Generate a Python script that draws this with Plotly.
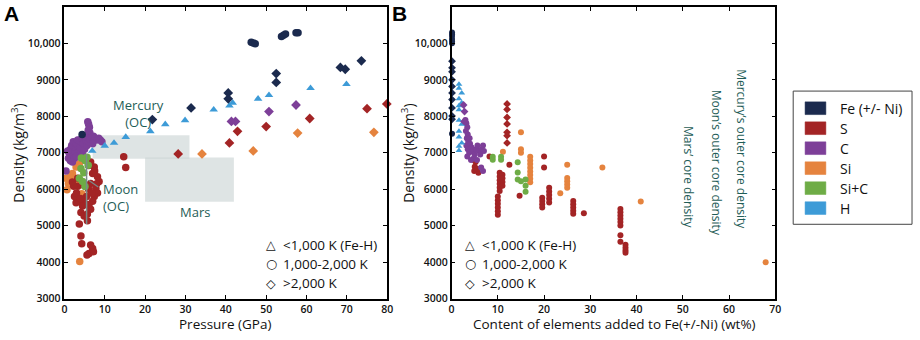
import plotly.graph_objects as go

W, H = 920, 340
FONT = "Open Sans"
TEAL = "#1f5d57"

CATEGORIES = ["Fe (+/- Ni)", "S", "C", "Si", "Si+C", "H"]
COLORS = ["#1b2a4e", "#a32425", "#7d3f98", "#e5833e", "#6eac46", "#3d9bd7"]
TEMP_LABELS = ["<1,000 K (Fe-H)", "1,000-2,000 K", ">2,000 K"]
TEMP_GLYPHS = ["\u25b3", "\u25cb", "\u25c7"]
Y_TICKS = [3000, 4000, 5000, 6000, 7000, 8000, 9000, 10000, 11000]
Y_TICKTEXT = ["3000", "4000", "5000", "6000", "7000", "8000", "9000", "10,000", "11,000"]
XA_TICKS = [0, 10, 20, 30, 40, 50, 60, 70, 80]
XB_TICKS = [0, 10, 20, 30, 40, 50, 60, 70]

# ---------------- Panel A : density vs pressure (GPa) ----------------
A_FE_CIR_X = [46.3, 46.8, 47.3, 53.8, 54.3, 54.8, 57.4, 57.9, 4.4]
A_FE_CIR_Y = [10030, 10010, 9990, 10190, 10225, 10255, 10290, 10290, 7500]
A_FE_DIA_X = [21.8, 31.4, 40.6, 40.6, 52.5, 52.5, 68.4, 69.6, 73.6]
A_FE_DIA_Y = [7910, 8230, 8640, 8480, 9170, 8930, 9340, 9290, 9520]

A_S_CIR_X = [6.5, 7.4, 7.0, 8.2, 8.6, 6.5, 7.8, 8.2, 7.4, 7.0, 6.1, 4.9, 3.7, 2.9, 2.5, 3.3,
             4.5, 4.1, 4.9, 5.7, 6.5, 5.7, 3.7, 4.1, 4.3, 6.5, 7.0, 6.1, 7.2, 5.6, 2.3, 3.3,
             14.7, 15.2, 7.5, 6.0, 5.5, 8.0, 6.8, 3.0, 4.0, 5.0, 6.0, 2.0]
A_S_CIR_Y = [6750, 6610, 6430, 6340, 6210, 6160, 6030, 5900, 5800, 5670, 5580, 5630, 5670, 5630, 5800, 6080,
             5540, 5360, 5270, 5320, 5450, 5140, 5050, 4720, 4510, 4470, 4380, 4240, 4290, 4200, 6080, 6300,
             6890, 6600, 6500, 6000, 5800, 6150, 5900, 5900, 5750, 6100, 6650, 6200]
A_S_DIA_X = [28.2, 40.9, 42.9, 50.0, 60.8, 75.0, 79.9]
A_S_DIA_Y = [6970, 7270, 7590, 7720, 7940, 8210, 8340]

A_C_CIR_X = [5.8, 6.0, 6.2, 5.9, 6.3, 6.0, 6.5, 5.5, 1.2, 1.5, 1.8, 2.2, 2.0, 2.5, 2.8, 3.0, 3.3, 3.5,
             3.8, 4.0, 4.3, 4.7, 5.0, 5.3, 5.6, 6.0, 6.4, 6.8, 7.2, 7.6, 8.0, 8.5, 8.9, 9.3, 7.0,
             1.0, 1.5, 2.0, 2.5, 3.0, 4.5, 0.8, 0.4]
A_C_CIR_Y = [7850, 7780, 7700, 7620, 7550, 7480, 7420, 7400, 7000, 7100, 7200, 7300, 6900, 7050, 7150, 7250, 7350, 7000,
             7150, 7300, 7400, 7250, 7100, 7350, 7200, 7300, 7380, 7420, 7450, 7400, 7350, 7400, 7350, 7300, 7250,
             6850, 6780, 6750, 6850, 6900, 6950, 7050, 6500]
A_C_DIA_X = [41.4, 42.4, 50.7, 57.4]
A_C_DIA_Y = [7860, 7860, 8130, 8310]

A_SI_CIR_X = [0.4, 1.0, 0.65, 3.3, 2.9, 3.7, 2.0, 3.8, 4.3, 1.5]
A_SI_CIR_Y = [6300, 6150, 5990, 6120, 6610, 6700, 6430, 4020, 5880, 6350]
A_SI_DIA_X = [34.1, 46.8, 57.8, 76.7]
A_SI_DIA_Y = [6970, 7050, 7540, 7560]

A_SIC_CIR_X = [4.2, 4.9, 5.6, 5.2, 4.1, 5.9, 3.7, 4.5, 5.1, 4.8]
A_SIC_CIR_Y = [6860, 6840, 6880, 6780, 6570, 6660, 6300, 6210, 6075, 6450]

A_H_TRI_X = [6.9, 10.0, 12.3, 15.2, 21.3, 25.0, 29.9, 37.0, 40.9, 41.7, 48.0, 50.7, 61.0, 69.9]
A_H_TRI_Y = [7050, 7190, 7270, 7430, 7590, 7780, 7890, 8180, 8290, 8370, 8480, 8580, 8770, 8880]

# Core-density reference zones (GPa, kg/m3)
MERCURY_OC_P = [7.0, 31.0]
MERCURY_OC_RHO = [6840, 7480]
MARS_P = [20.0, 42.0]
MARS_RHO = [5660, 6870]
MOON_OC_P = 5.5
MOON_OC_RHO = [5050, 6970]

# ---------------- Panel B : density vs light-element content (wt%) ----------------
B_FE_CIR_X = [0.1, 0.1, 0.1, 0.1, 0.1, 0.1, 0.1]
B_FE_CIR_Y = [10300, 10250, 10200, 10120, 10060, 10000, 7520]
B_FE_DIA_X = [0.1, 0.1, 0.1, 0.1, 0.1, 0.1, 0.1, 0.1, 0.1, 0.1]
B_FE_DIA_Y = [9510, 9330, 9220, 9000, 8820, 8640, 8460, 8230, 8010, 7920]

B_S_CIR_X = [4.8, 5.2, 5.0, 4.9, 5.8, 5.5, 8.2, 12.5, 14.7, 20.0, 20.0,
             10.4, 10.4, 10.4, 10.4, 10.4, 10.4, 11.0, 11.0, 11.0, 11.0,
             10.0, 10.0, 10.0, 10.0, 10.0, 10.0, 19.6, 19.6, 19.6, 19.6,
             21.1, 21.1, 21.1, 21.1, 21.1, 26.3, 26.3, 26.3, 26.3, 26.3, 28.6,
             36.5, 36.5, 36.5, 36.5, 36.5, 36.5, 36.5, 36.5, 37.6, 37.6, 37.6, 37.6]
B_S_CIR_Y = [6800, 6750, 6620, 6500, 6450, 6560, 6900, 6670, 5820, 6900, 6600,
             6450, 6350, 6250, 6150, 6050, 5950, 6400, 6300, 6200, 6100,
             5800, 5700, 5600, 5500, 5400, 5300, 5770, 5680, 5590, 5500,
             6040, 5940, 5840, 5740, 5640, 5680, 5590, 5500, 5410, 5330, 5340,
             5460, 5370, 5280, 5190, 5100, 5010, 4740, 4560, 4480, 4400, 4320, 4260]
B_S_DIA_X = [12.0, 12.0, 12.0, 12.0, 12.0, 12.0, 12.0]
B_S_DIA_Y = [8340, 8190, 7970, 7790, 7560, 7470, 7270]

B_C_CIR_X = [3.0, 3.2, 3.4, 3.1, 3.5, 3.3, 3.6, 3.2, 3.5, 3.8, 3.4, 4.0, 4.3, 4.6,
             5.0, 5.3, 5.6, 5.9, 6.2, 6.5, 6.8, 7.0, 4.8, 5.5, 6.8, 6.4, 4.2, 3.9]
B_C_CIR_Y = [7900, 7800, 7700, 7600, 7500, 7400, 7300, 7200, 7100, 7000, 6900, 7250, 7150, 7050,
             6950, 7100, 7200, 7050, 6950, 7100, 7200, 7050, 6850, 6800, 6500, 6600, 6800, 7400]
B_C_DIA_X = [2.6, 2.8, 2.7, 2.9]
B_C_DIA_Y = [8310, 8130, 7860, 7860]

B_SI_CIR_X = [11.1, 15.0, 15.0, 15.0, 17.0, 17.0, 17.0, 17.0, 17.0, 17.0, 17.0, 17.0,
              23.5, 25.0, 25.0, 25.0, 25.0, 25.0, 32.6, 40.9, 67.9]
B_SI_CIR_Y = [7030, 7560, 7100, 7000, 6890, 6790, 6690, 6590, 6490, 6390, 6290, 6190,
              5890, 6670, 6310, 6220, 6130, 6040, 6600, 5665, 4000]

B_SIC_CIR_X = [8.9, 8.9, 10.7, 10.7, 14.3, 14.3, 14.3, 15.0, 16.0, 16.0, 16.0]
B_SIC_CIR_Y = [6890, 6810, 6890, 6810, 6740, 6460, 6270, 6220, 6270, 6100, 5930]

B_H_TRI_X = [1.6, 1.6, 2.2, 1.6, 2.2, 1.6, 1.6, 1.6, 2.2, 1.6, 1.6, 2.2, 1.6, 1.6]
B_H_TRI_Y = [8880, 8770, 8640, 8480, 8370, 8290, 8180, 7890, 7780, 7590, 7430, 7270, 7180, 7060]

CORE_NOTES = ["Mercury\u2019s outer core density", "Moon\u2019s outer core density", "Mars\u2019 core density"]


def px(x):
    return x / W


def py(y):
    return 1 - y / H


COL = dict(zip(CATEGORIES, COLORS))
fig = go.Figure()


def add(xs, ys, cat, symbol, size, panel):
    fig.add_trace(go.Scatter(
        x=xs, y=ys, mode="markers", showlegend=False, cliponaxis=False,
        xaxis="x" if panel == "A" else "x2", yaxis="y" if panel == "A" else "y2",
        marker=dict(color=COL[cat], symbol=symbol, size=size, line=dict(width=0)),
        hoverinfo="skip"))


SA, SB = 7.5, 6
# Panel A
add(A_SI_CIR_X, A_SI_CIR_Y, "Si", "circle", SA, "A")
add(A_S_CIR_X, A_S_CIR_Y, "S", "circle", SA, "A")
add(A_C_CIR_X, A_C_CIR_Y, "C", "circle", SA, "A")
add(A_SIC_CIR_X, A_SIC_CIR_Y, "Si+C", "circle", SA, "A")
add(A_FE_CIR_X, A_FE_CIR_Y, "Fe (+/- Ni)", "circle", SA, "A")
add(A_H_TRI_X, A_H_TRI_Y, "H", "triangle-up", SA, "A")
add(A_S_DIA_X, A_S_DIA_Y, "S", "diamond", SA, "A")
add(A_C_DIA_X, A_C_DIA_Y, "C", "diamond", SA, "A")
add(A_SI_DIA_X, A_SI_DIA_Y, "Si", "diamond", SA, "A")
add(A_FE_DIA_X, A_FE_DIA_Y, "Fe (+/- Ni)", "diamond", SA, "A")
# Panel B
add(B_S_CIR_X, B_S_CIR_Y, "S", "circle", SB, "B")
add(B_SI_CIR_X, B_SI_CIR_Y, "Si", "circle", SB, "B")
add(B_SIC_CIR_X, B_SIC_CIR_Y, "Si+C", "circle", SB, "B")
add(B_C_CIR_X, B_C_CIR_Y, "C", "circle", SB, "B")
add(B_H_TRI_X, B_H_TRI_Y, "H", "triangle-up", SB, "B")
add(B_FE_CIR_X, B_FE_CIR_Y, "Fe (+/- Ni)", "circle", SB, "B")
add(B_FE_DIA_X, B_FE_DIA_Y, "Fe (+/- Ni)", "diamond", SB, "B")
add(B_S_DIA_X, B_S_DIA_Y, "S", "diamond", SB, "B")
add(B_C_DIA_X, B_C_DIA_Y, "C", "diamond", SB, "B")

shapes = []
# grey zones panel A
for (p0, p1), (r0, r1) in [(MERCURY_OC_P, MERCURY_OC_RHO), (MARS_P, MARS_RHO)]:
    shapes.append(dict(type="rect", xref="x", yref="y", x0=p0, x1=p1, y0=r0, y1=r1,
                       fillcolor="rgba(200,210,210,0.6)", line=dict(width=0), layer="below"))
shapes.append(dict(type="line", xref="x", yref="y", x0=MOON_OC_P, x1=MOON_OC_P,
                   y0=MOON_OC_RHO[0], y1=MOON_OC_RHO[1], line=dict(color="#7a8c8a", width=1.5)))
shapes.append(dict(type="line", xref="x", yref="y", x0=6.0, x1=8.4, y0=6250, y1=6060,
                   line=dict(color="#7a8c8a", width=1.2)))

# right-hand legend box
LEG_X0, LEG_X1, LEG_Y0, LEG_Y1 = 798, 918, 93, 229
shapes.append(dict(type="rect", xref="paper", yref="paper", x0=px(LEG_X0), x1=px(LEG_X1),
                   y0=py(LEG_Y1), y1=py(LEG_Y0), line=dict(color="#444", width=1), fillcolor="white"))


def note(x, y, text, size=13, color="#111", xanchor="center", **kw):
    return dict(xref="paper", yref="paper", x=px(x), y=py(y), text=text, showarrow=False,
                xanchor=xanchor, yanchor="middle", font=dict(family=kw.pop("family", FONT), size=size, color=color), **kw)


annotations = []
ROW0, ROWSTEP = 110.5, 20.4
for i, (cat, colr) in enumerate(zip(CATEGORIES, COLORS)):
    yc = ROW0 + i * ROWSTEP
    shapes.append(dict(type="rect", xref="paper", yref="paper", x0=px(810), x1=px(831),
                       y0=py(yc + 6.5), y1=py(yc - 6.5), fillcolor=colr,
                       line=dict(color=colr, width=0.5)))
    annotations.append(note(843, yc, cat, size=14, xanchor="left"))

# temperature symbol keys inside panels
for (sx, tx) in [(271, 281), (472, 482)]:
    for j, (g, lab) in enumerate(zip(TEMP_GLYPHS, TEMP_LABELS)):
        yc = 250 + j * 19.5
        annotations.append(note(sx, yc, g, size=12.5, family="DejaVu Sans"))
        annotations.append(note(tx, yc, lab, size=13.5, xanchor="left"))

# zone labels panel A
annotations += [
    note(137, 116, "Mercury<br>(OC)", color=TEAL, align="center"),
    note(99, 202, "Moon<br>(OC)", color=TEAL, xanchor="left", align="left"),
    note(194, 216, "Mars", color=TEAL),
]
# vertical notes panel B
for txt, (nx, ny) in zip(CORE_NOTES, [(745, 152), (720, 166), (693, 181)]):
    annotations.append(note(nx, ny, txt, size=12, color=TEAL, textangle=90))

# panel letters and axis titles
annotations += [
    note(9, 14, "<b>A</b>", size=21, color="black", family="Liberation Sans"),
    note(400, 14, "<b>B</b>", size=21, color="black", family="Liberation Sans"),
    note(15, 156, "Density (kg/m<sup>3</sup>)", size=14, textangle=-90),
    note(409, 156, "Density (kg/m<sup>3</sup>)", size=14, textangle=-90),
    note(224, 331, "Pressure (GPa)", size=13.5),
    note(618, 331, "Content of elements added to Fe(+/-Ni) (wt%)", size=13.5),
]

ax_common = dict(showline=True, linecolor="black", linewidth=1.5, mirror="ticks", ticks="inside",
                 ticklen=4, tickwidth=1.3, tickcolor="black", showgrid=False, zeroline=False,
                 tickfont=dict(family=FONT, size=10.5, color="#111", weight=600))
YDOM = [1 - 305 / H, 1 - 7 / H]

fig.update_layout(
    width=W, height=H, margin=dict(l=0, r=0, t=0, b=0),
    paper_bgcolor="white", plot_bgcolor="white", showlegend=False,
    xaxis=dict(domain=[px(62), px(388)], range=[0, 80], tickvals=XA_TICKS, anchor="y", **ax_common),
    yaxis=dict(domain=YDOM, range=[3000, 11000], tickvals=Y_TICKS, ticktext=Y_TICKTEXT, anchor="x", **ax_common),
    xaxis2=dict(domain=[px(453), px(780)], range=[0, 70], tickvals=XB_TICKS, anchor="y2", **ax_common),
    yaxis2=dict(domain=YDOM, range=[3000, 11000], tickvals=Y_TICKS, ticktext=Y_TICKTEXT, anchor="x2", **ax_common),
    shapes=shapes, annotations=annotations,
)

fig.write_html("out.html", config={"displayModeBar": False},
               post_script="document.body.style.margin='0px';document.body.style.overflow='hidden';")
